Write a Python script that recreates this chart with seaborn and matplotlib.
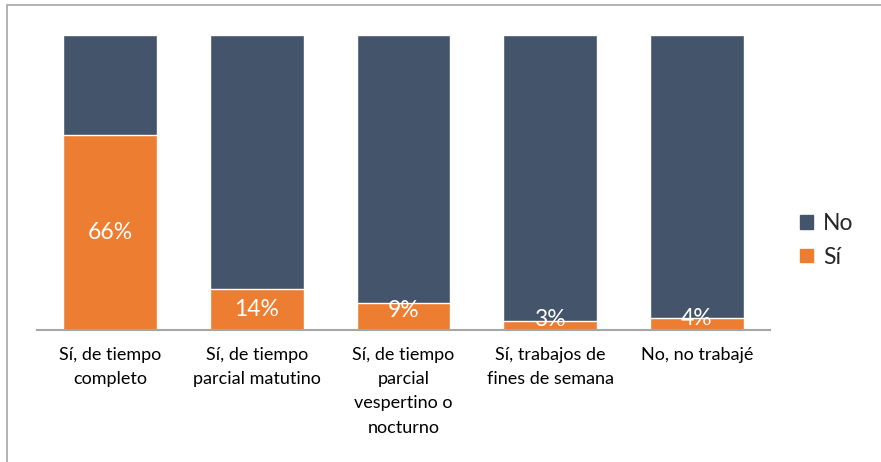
import numpy as np
import pandas as pd
import matplotlib
matplotlib.use("Agg")
import matplotlib.pyplot as plt
import seaborn as sns
from matplotlib.patches import Rectangle, Patch

categorias = ["Sí, de tiempo\ncompleto", "Sí, de tiempo\nparcial matutino",
              "Sí, de tiempo\nparcial\nvespertino o\nnocturno",
              "Sí, trabajos de\nfines de semana", "No, no trabajé"]
si = [66, 14, 9, 3, 4]
no = [100 - v for v in si]

df = pd.DataFrame({"categoria": categorias, "si": si, "total": [s + n for s, n in zip(si, no)]})

sns.set_theme(style="white")
plt.rcParams["font.family"] = ["Lato", "DejaVu Sans"]

c_no = "#44546A"
c_si = "#ED7D31"

fig = plt.figure(figsize=(8.81, 4.62), dpi=100)
ax = fig.add_axes([0.042, 0.286, 0.832, 0.638])

sns.barplot(data=df, x="categoria", y="total", color=c_no, width=0.64,
            saturation=1, ax=ax)
sns.barplot(data=df, x="categoria", y="si", color=c_si, width=0.64,
            saturation=1, ax=ax)

for i, v in enumerate(si):
    ypos = v / 2 if v > 10 else v / 2 + 2
    ax.text(i, ypos, f"{v}%", ha="center", va="center", color="white", fontsize=16.5)

ax.set_xlim(-0.5, 4.5)
ax.set_ylim(0, 100)
ax.set_xlabel("")
ax.set_ylabel("")
ax.set_yticks([])
for s in ["top", "right", "left"]:
    ax.spines[s].set_visible(False)
ax.spines["bottom"].set_color("#A6A6A6")
ax.spines["bottom"].set_linewidth(1.5)
ax.tick_params(axis="x", length=0, labelsize=13, pad=12, colors="black")
ax.set_xticks(range(len(categorias)))
ax.set_xticklabels(categorias, linespacing=1.65, fontsize=13, va="top")

handles = [Patch(color=c_no, label="No"), Patch(color=c_si, label="Sí")]
fig.legend(handles=handles, loc="center left", bbox_to_anchor=(0.885, 0.48),
           frameon=False, fontsize=16.5, handlelength=0.55, handleheight=0.55,
           handletextpad=0.45, labelspacing=0.55)

fig.patches.append(Rectangle((0.008, -0.05), 1.1, 1.039, transform=fig.transFigure,
                             fill=False, edgecolor="#A6A6A6", linewidth=1.2))

fig.savefig("out.png", dpi=100)
